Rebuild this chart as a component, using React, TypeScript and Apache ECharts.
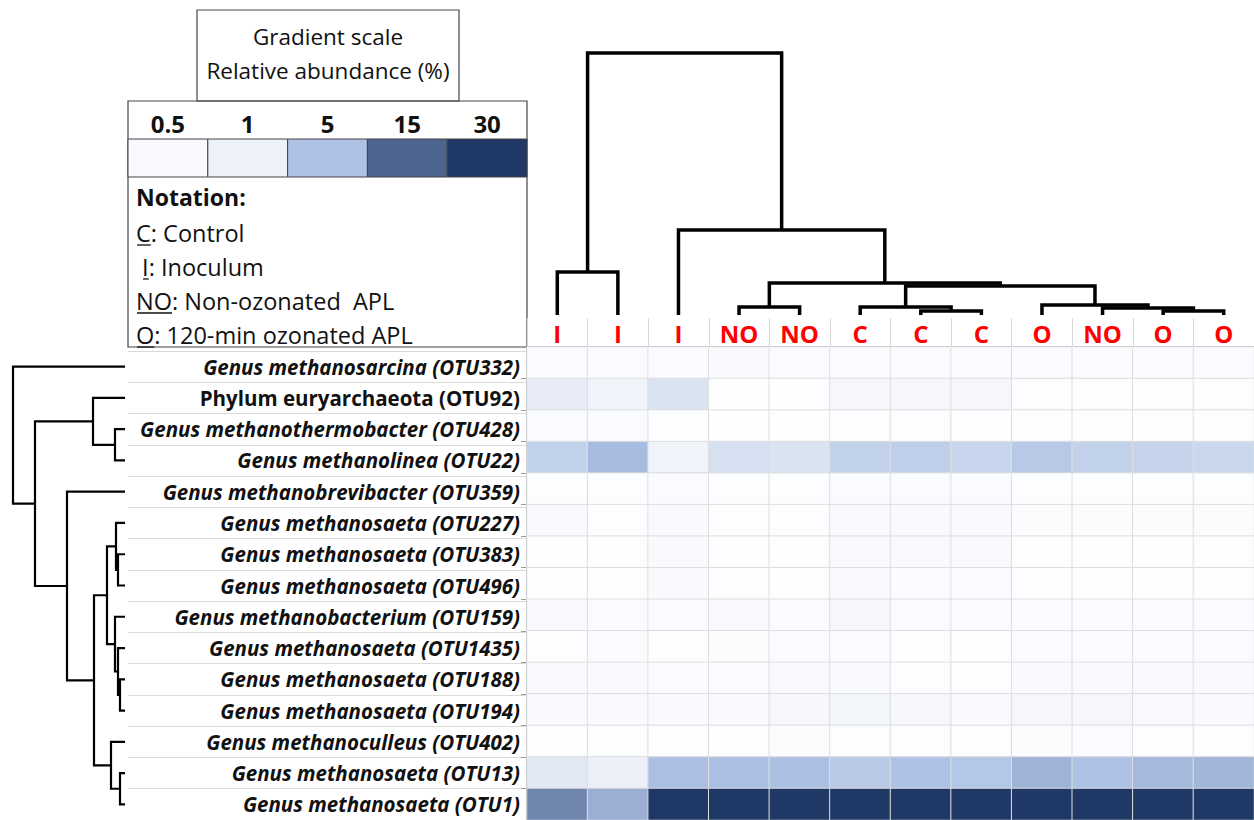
import React, { useEffect, useRef } from "react";
import * as echarts from "echarts";

// Sample groups (columns of the heat map, in dendrogram leaf order)
const SAMPLES = ["I", "I", "I", "NO", "NO", "C", "C", "C", "O", "NO", "O", "O"];

// Archaeal OTUs (rows, in dendrogram leaf order)
const TAXA = [
  "Genus methanosarcina (OTU332)",
  "Phylum euryarchaeota (OTU92)",
  "Genus methanothermobacter (OTU428)",
  "Genus methanolinea (OTU22)",
  "Genus methanobrevibacter (OTU359)",
  "Genus methanosaeta (OTU227)",
  "Genus methanosaeta (OTU383)",
  "Genus methanosaeta (OTU496)",
  "Genus methanobacterium (OTU159)",
  "Genus methanosaeta (OTU1435)",
  "Genus methanosaeta (OTU188)",
  "Genus methanosaeta (OTU194)",
  "Genus methanoculleus (OTU402)",
  "Genus methanosaeta (OTU13)",
  "Genus methanosaeta (OTU1)",
];
// Names resolved only to phylum level are written upright
const UPRIGHT_ROWS = [1];

// Relative abundance (%) per OTU row, one value per sample column
const OTU332 = [0.3, 0.3, 0.35, 0.45, 0.3, 0.35, 0.3, 0.3, 0.3, 0.3, 0.3, 0.3];
const OTU92 = [1.4, 0.9, 2.2, 0.1, 0.1, 0.6, 0.6, 0.6, 0.2, 0.2, 0.2, 0.2];
const OTU428 = [0.3, 0.3, 0.2, 0.2, 0.2, 0.2, 0.2, 0.2, 0.2, 0.2, 0.2, 0.2];
const OTU22 = [3.7, 5.6, 0.9, 2.4, 2.2, 3.7, 3.9, 3.3, 4.4, 3.7, 3.5, 3.2];
const OTU359 = [0.2, 0.2, 0.35, 0.2, 0.2, 0.35, 0.35, 0.35, 0.2, 0.2, 0.2, 0.2];
const OTU227 = [0.4, 0.2, 0.4, 0.2, 0.2, 0.45, 0.45, 0.4, 0.25, 0.25, 0.25, 0.25];
const OTU383 = [0.15, 0.15, 0.4, 0.2, 0.2, 0.4, 0.45, 0.4, 0.15, 0.15, 0.15, 0.15];
const OTU496 = [0.15, 0.15, 0.4, 0.2, 0.2, 0.4, 0.3, 0.3, 0.2, 0.2, 0.2, 0.2];
const OTU159 = [0.4, 0.35, 0.35, 0.5, 0.3, 0.6, 0.35, 0.35, 0.3, 0.35, 0.3, 0.35];
const OTU1435 = [0.2, 0.35, 0.15, 0.25, 0.35, 0.35, 0.2, 0.2, 0.3, 0.3, 0.3, 0.3];
const OTU188 = [0.4, 0.4, 0.35, 0.3, 0.4, 0.45, 0.2, 0.2, 0.4, 0.45, 0.45, 0.4];
const OTU194 = [0.45, 0.4, 0.4, 0.4, 0.55, 0.7, 0.55, 0.4, 0.6, 0.6, 0.5, 0.45];
const OTU402 = [0.2, 0.2, 0.2, 0.2, 0.25, 0.2, 0.2, 0.2, 0.25, 0.3, 0.2, 0.2];
const OTU13 = [1.7, 1.05, 5.3, 5.3, 5.2, 4.3, 5.0, 4.6, 6.6, 5.0, 6.0, 6.3];
const OTU1 = [11.4, 7.0, 32, 34, 31, 30.5, 33, 31, 35, 32, 33, 30.8];

const ABUNDANCE = [
  OTU332, OTU92, OTU428, OTU22, OTU359, OTU227, OTU383, OTU496,
  OTU159, OTU1435, OTU188, OTU194, OTU402, OTU13, OTU1,
];

// Gradient scale stops
const SCALE_VALUES = [0.5, 1, 5, 15, 30];
const SCALE_COLORS = ["#f7f9fd", "#edf1f9", "#adc2e4", "#4e6490", "#1f3865"];

// Sample clustering: [childA, childB, height]; leaves are 0..11
const SAMPLE_LINKAGE: [number, number, number][] = [
  [0, 1, 43],
  [3, 4, 8],
  [6, 7, 4],
  [5, 14, 8],
  [10, 11, 4],
  [9, 16, 7],
  [8, 17, 10],
  [15, 18, 29],
  [13, 19, 32],
  [2, 20, 85],
  [12, 21, 262],
];

// OTU clustering: [childA, childB, height]; leaves are 0..14
const OTU_LINKAGE: [number, number, number][] = [
  [2, 3, 10],
  [1, 15, 32],
  [6, 7, 7],
  [5, 17, 9],
  [10, 11, 5],
  [9, 19, 7],
  [8, 20, 10],
  [18, 21, 18],
  [13, 14, 5],
  [12, 23, 14],
  [22, 24, 31],
  [4, 25, 58],
  [16, 26, 90],
  [0, 27, 112],
];

const FONT = "'Open Sans', 'Noto Sans', sans-serif";

function colorAt(v: number): string {
  if (v <= SCALE_VALUES[0]) {
    return echarts.color.lerp(Math.max(0, v) / SCALE_VALUES[0], ["#ffffff", SCALE_COLORS[0]]) as string;
  }
  for (let i = 1; i < SCALE_VALUES.length; i++) {
    if (v <= SCALE_VALUES[i]) {
      const t = (v - SCALE_VALUES[i - 1]) / (SCALE_VALUES[i] - SCALE_VALUES[i - 1]);
      return echarts.color.lerp(t, [SCALE_COLORS[i - 1], SCALE_COLORS[i]]) as string;
    }
  }
  return SCALE_COLORS[SCALE_COLORS.length - 1];
}

// U-shaped links of a dendrogram: [posA, heightA, posB, heightB, height]
function dendroLinks(linkage: [number, number, number][], nLeaves: number) {
  const pos: number[] = [];
  const hgt: number[] = [];
  for (let i = 0; i < nLeaves; i++) {
    pos[i] = i + 0.5;
    hgt[i] = 0;
  }
  const links: number[][] = [];
  linkage.forEach(([a, b, h], k) => {
    const id = nLeaves + k;
    pos[id] = (pos[a] + pos[b]) / 2;
    hgt[id] = h;
    links.push([pos[a], hgt[a], pos[b], hgt[b], h]);
  });
  return links;
}

function textWidth(text: string, font: string): number {
  const ctx = document.createElement("canvas").getContext("2d");
  if (!ctx) return text.length * 10;
  ctx.font = font;
  return ctx.measureText(text).width;
}

export default function App() {
  const ref = useRef<HTMLDivElement>(null);

  useEffect(() => {
    if (!ref.current) return;
    const chart = echarts.init(ref.current, undefined, { renderer: "svg" });

    const cells: number[][] = [];
    ABUNDANCE.forEach((row, r) => row.forEach((v, c) => cells.push([c, r, v])));

    const ramp: string[] = [];
    for (let v = 0; v <= 30; v += 0.25) ramp.push(colorAt(v));

    const sampleLinks = dendroLinks(SAMPLE_LINKAGE, SAMPLES.length);
    const otuLinks = dendroLinks(OTU_LINKAGE, TAXA.length);

    // Legend geometry
    const boxL = 128;
    const boxR = 527;
    const cellW = (boxR - boxL) / SCALE_VALUES.length;
    const notationSize = 23.5;
    const notationFont = `${notationSize}px ${FONT}`;
    const notation = [
      { text: "C: Control", pre: "", mark: "C", y: 233 },
      { text: " I: Inoculum", pre: " ", mark: "I", y: 267 },
      { text: "NO: Non-ozonated  APL", pre: "", mark: "NO", y: 301 },
      { text: "O: 120-min ozonated APL", pre: "", mark: "O", y: 335 },
    ];
    const notationX = 136;

    const graphic: any[] = [
      {
        type: "rect",
        shape: { x: 197, y: 10, width: 262, height: 91 },
        style: { fill: "#fff", stroke: "#444", lineWidth: 1.2 },
      },
      {
        type: "text",
        x: 328,
        y: 36,
        style: { text: "Gradient scale", fontSize: 22.5, fontFamily: FONT, fill: "#111", align: "center", verticalAlign: "middle" },
      },
      {
        type: "text",
        x: 328,
        y: 70,
        style: { text: "Relative abundance (%)", fontSize: 22.5, fontFamily: FONT, fill: "#111", align: "center", verticalAlign: "middle" },
      },
      {
        type: "rect",
        shape: { x: boxL, y: 101, width: boxR - boxL, height: 246 },
        style: { fill: "none", stroke: "#444", lineWidth: 1.2 },
      },
      {
        type: "text",
        x: notationX,
        y: 197,
        style: { text: "Notation:", fontSize: 23, fontWeight: "bold", fontFamily: FONT, fill: "#111", verticalAlign: "middle" },
      },
    ];
    SCALE_VALUES.forEach((v, i) => {
      graphic.push({
        type: "text",
        x: boxL + cellW * (i + 0.5),
        y: 123,
        style: { text: String(v), fontSize: 24, fontWeight: "bold", fontFamily: FONT, fill: "#111", align: "center", verticalAlign: "middle" },
      });
      graphic.push({
        type: "rect",
        shape: { x: boxL + cellW * i, y: 139, width: cellW, height: 38 },
        style: { fill: SCALE_COLORS[i], stroke: "#444", lineWidth: 1 },
      });
    });
    notation.forEach((n) => {
      graphic.push({
        type: "text",
        x: notationX,
        y: n.y,
        style: { text: n.text, fontSize: notationSize, fontFamily: FONT, fill: "#111", verticalAlign: "middle" },
      });
      const x0 = notationX + (n.pre ? textWidth(n.pre, notationFont) : 0);
      const w = textWidth(n.mark, notationFont);
      graphic.push({
        type: "line",
        shape: { x1: x0 + 1, y1: n.y + 12, x2: x0 + w, y2: n.y + 12 },
        style: { stroke: "#111", lineWidth: 1.3 },
      });
    });

    const linkRenderer = (swap: boolean, width: number) => (params: any, api: any) => {
      const pt = (p: number, h: number) => (swap ? api.coord([h, p]) : api.coord([p, h]));
      const pa = api.value(0);
      const ha = api.value(1);
      const pb = api.value(2);
      const hb = api.value(3);
      const h = api.value(4);
      return {
        type: "polyline",
        shape: { points: [pt(pa, ha), pt(pa, h), pt(pb, h), pt(pb, hb)] },
        style: { stroke: "#000", lineWidth: width, fill: "none" },
      };
    };

    const option: any = {
      animation: false,
      backgroundColor: "#ffffff",
      grid: [
        { left: 527, top: 347, width: 727, height: 473 },
        { left: 527, top: 53, width: 727, height: 262 },
        { left: 13, top: 351, width: 112, height: 469 },
        { left: boxL, top: 351, width: boxR - boxL, height: 469 },
      ],
      xAxis: [
        {
          gridIndex: 0,
          type: "category",
          data: SAMPLES,
          position: "top",
          axisLine: { show: true, lineStyle: { color: "#555", width: 1.5 } },
          axisTick: { show: true, length: 29, interval: 0, lineStyle: { color: "#d8d8d8" } },
          axisLabel: { color: "#ff0000", fontWeight: "bold", fontSize: 24, fontFamily: FONT, margin: 2, interval: 0 },
          splitLine: { show: true, interval: 0, lineStyle: { color: "#e2e2e2" } },
        },
        { gridIndex: 1, type: "value", min: 0, max: SAMPLES.length, show: false },
        { gridIndex: 2, type: "value", min: 0, max: 112, inverse: true, show: false },
        { gridIndex: 3, type: "value", min: 0, max: 1, show: false },
      ],
      yAxis: [
        {
          gridIndex: 0,
          type: "category",
          data: TAXA,
          inverse: true,
          axisLine: { show: true, lineStyle: { color: "#555", width: 1.5 } },
          axisTick: { show: true, length: 6, interval: 0, lineStyle: { color: "#999" } },
          axisLabel: { show: false },
          splitLine: { show: true, interval: 0, lineStyle: { color: "#e2e2e2" } },
        },
        { gridIndex: 1, type: "value", min: 0, max: 262, show: false },
        { gridIndex: 2, type: "value", min: 0, max: TAXA.length, inverse: true, show: false },
        {
          gridIndex: 3,
          type: "category",
          data: TAXA,
          inverse: true,
          position: "right",
          axisLine: { show: false },
          axisTick: { show: false },
          splitLine: { show: true, interval: 0, lineStyle: { color: "#dadada" } },
          axisLabel: {
            inside: true,
            margin: 7,
            interval: 0,
            formatter: (value: string, index: number) =>
              UPRIGHT_ROWS.includes(index) ? `{u|${value}}` : `{i|${value}}`,
            rich: {
              i: { fontSize: 20.5, fontWeight: "bold", fontStyle: "italic", fontFamily: FONT, color: "#111" },
              u: { fontSize: 20.5, fontWeight: "bold", fontFamily: FONT, color: "#111" },
            },
          },
        },
      ],
      visualMap: {
        show: false,
        seriesIndex: 0,
        dimension: 2,
        min: 0,
        max: 30,
        inRange: { color: ramp },
        outOfRange: { color: SCALE_COLORS[SCALE_COLORS.length - 1] },
      },
      graphic,
      series: [
        {
          type: "heatmap",
          xAxisIndex: 0,
          yAxisIndex: 0,
          data: cells,
          itemStyle: { borderColor: "#dedede", borderWidth: 1 },
          label: { show: false },
        },
        {
          type: "custom",
          xAxisIndex: 1,
          yAxisIndex: 1,
          data: sampleLinks,
          renderItem: linkRenderer(false, 3.5),
          silent: true,
        },
        {
          type: "custom",
          xAxisIndex: 2,
          yAxisIndex: 2,
          data: otuLinks,
          renderItem: linkRenderer(true, 2.2),
          silent: true,
        },
      ],
    };

    chart.setOption(option);
    return () => chart.dispose();
  }, []);

  return (
    <div
      ref={ref}
      style={{ position: "fixed", left: 0, top: 0, width: 1254, height: 820, background: "#fff" }}
    />
  );
}
